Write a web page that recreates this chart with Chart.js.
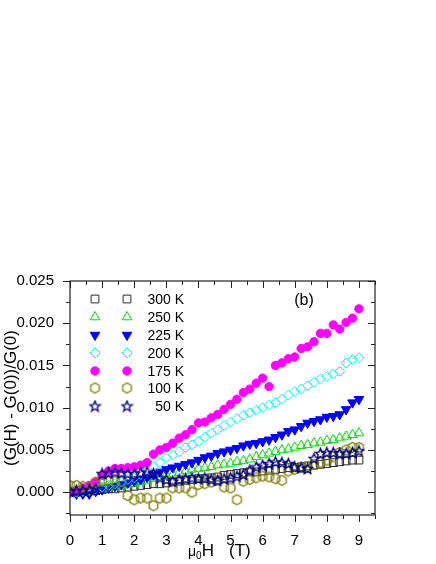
<!DOCTYPE html>
<html lang="en">
<head>
    <meta charset="UTF-8">
    <title>(G(H) - G(0))/G(0) vs field</title>
    <style>
        body {
            margin: 0;
            padding: 0;
            background: #fff;
        }
        #chart {
            display: block;
        }
    </style>
</head>
<body>
    <canvas id="chart" width="436" height="564"></canvas>
    <script src="https://cdn.jsdelivr.net/npm/chart.js@4.4.0/dist/chart.umd.min.js"></script>
    <script>
        // field values (T)
        const field = [0, 0.2, 0.4, 0.6, 0.8, 1.0, 1.2, 1.4, 1.6, 1.8, 2.0, 2.2, 2.4, 2.6, 2.8, 3.0,
            3.2, 3.4, 3.6, 3.8, 4.0, 4.2, 4.4, 4.6, 4.8, 5.0, 5.2, 5.4, 5.6, 5.8, 6.0,
            6.2, 6.4, 6.6, 6.8, 7.0, 7.2, 7.4, 7.6, 7.8, 8.0, 8.2, 8.4, 8.6, 8.8, 9.0];

        const temps = ['300 K', '250 K', '225 K', '200 K', '175 K', '100 K', '50 K'];

        const g300 = [0.0000, 0.0001, 0.0001, 0.0002, 0.0002, 0.0003, 0.0004, 0.0004, 0.0005, 0.0006, 0.0007, 0.0008, 0.0009, 0.0010, 0.0010, 0.0011,
            0.0012, 0.0013, 0.0014, 0.0015, 0.0016, 0.0016, 0.0017, 0.0018, 0.0020, 0.0021, 0.0022, 0.0023, 0.0024, 0.0024, 0.0025,
            0.0026, 0.0027, 0.0028, 0.0029, 0.0029, 0.0030, 0.0031, 0.0032, 0.0033, 0.0034, 0.0035, 0.0036, 0.0037, 0.0038, 0.0038];
        const g250 = [0.0000, -0.0001, 0.0000, 0.0001, 0.0003, 0.0004, 0.0005, 0.0006, 0.0007, 0.0009, 0.0010, 0.0012, 0.0014, 0.0016, 0.0018, 0.0020,
            0.0021, 0.0023, 0.0025, 0.0027, 0.0028, 0.0029, 0.0030, 0.0032, 0.0033, 0.0034, 0.0036, 0.0037, 0.0039, 0.0042, 0.0044,
            0.0046, 0.0048, 0.0050, 0.0051, 0.0053, 0.0055, 0.0056, 0.0058, 0.0059, 0.0061, 0.0062, 0.0064, 0.0066, 0.0068, 0.0070];
        const g225 = [0.0000, -0.0002, -0.0002, -0.0002, 0.0001, 0.0003, 0.0005, 0.0007, 0.0009, 0.0011, 0.0013, 0.0015, 0.0018, 0.0021, 0.0024, 0.0027,
            0.0029, 0.0031, 0.0033, 0.0035, 0.0038, 0.0041, 0.0043, 0.0046, 0.0048, 0.0050, 0.0052, 0.0055, 0.0057, 0.0058, 0.0060,
            0.0062, 0.0065, 0.0068, 0.0072, 0.0074, 0.0078, 0.0082, 0.0084, 0.0086, 0.0089, 0.0090, 0.0092, 0.0098, 0.0106, 0.0110];
        const g200 = [0.0000, 0.0000, 0.0001, 0.0002, 0.0004, 0.0006, 0.0008, 0.0010, 0.0012, 0.0015, 0.0017, 0.0021, 0.0025, 0.0030, 0.0035, 0.0041,
            0.0044, 0.0048, 0.0053, 0.0056, 0.0060, 0.0065, 0.0070, 0.0074, 0.0079, 0.0083, 0.0087, 0.0091, 0.0094, 0.0097, 0.0100,
            0.0103, 0.0106, 0.0110, 0.0115, 0.0119, 0.0122, 0.0126, 0.0130, 0.0134, 0.0137, 0.0140, 0.0143, 0.0153, 0.0157, 0.0159];
        const g175 = [0.0000, 0.0002, 0.0005, 0.0008, 0.0012, 0.0020, 0.0025, 0.0028, 0.0028, 0.0029, 0.0030, 0.0032, 0.0035, 0.0045, 0.0050, 0.0053,
            0.0058, 0.0064, 0.0068, 0.0074, 0.0082, 0.0083, 0.0088, 0.0092, 0.0098, 0.0104, 0.0110, 0.0118, 0.0122, 0.0129, 0.0135,
            0.0125, 0.0150, 0.0153, 0.0158, 0.0160, 0.0170, 0.0172, 0.0178, 0.0188, 0.0188, 0.0198, 0.0193, 0.0201, 0.0206, 0.0217];
        const g100 = [0.0008, 0.0008, 0.0007, 0.0003, 0.0012, 0.0013, 0.0013, 0.0013, 0.0013, -0.0004, -0.0009, -0.0007, -0.0007, -0.0016, -0.0007, -0.0007,
            0.0005, 0.0005, 0.0005, 0.0000, 0.0009, 0.0010, 0.0012, 0.0014, 0.0006, 0.0005, -0.0009, 0.0013, 0.0015, 0.0017, 0.0019,
            0.0018, 0.0016, 0.0014, 0.0025, 0.0027, 0.0029, 0.0030, 0.0033, 0.0035, 0.0038, 0.0042, 0.0047, 0.0050, 0.0053, 0.0053];
        const g50 = [0.0001, 0.0002, 0.0002, 0.0003, 0.0004, 0.0022, 0.0023, 0.0024, 0.0023, 0.0022, 0.0022, 0.0023, 0.0024, 0.0022, 0.0017, 0.0015,
            0.0013, 0.0015, 0.0016, 0.0017, 0.0016, 0.0017, 0.0015, 0.0014, 0.0016, 0.0017, 0.0019, 0.0021, 0.0026, 0.0030, 0.0032,
            0.0034, 0.0036, 0.0035, 0.0034, 0.0030, 0.0029, 0.0028, 0.0040, 0.0046, 0.0047, 0.0047, 0.0046, 0.0046, 0.0047, 0.0049];

        const xTicks = [0, 1, 2, 3, 4, 5, 6, 7, 8, 9];
        const yTicks = [0.000, 0.005, 0.010, 0.015, 0.020, 0.025];

        const FONT = '"Liberation Sans", Arial, sans-serif';

        // hollow hexagon and star markers (no built-in style for these)
        function makeMarker(kind, color) {
            const c = document.createElement('canvas');
            c.width = 13; c.height = 13;
            const g = c.getContext('2d');
            g.strokeStyle = color;
            g.lineWidth = 1.3;
            g.beginPath();
            if (kind === 'hex') {
                for (let i = 0; i < 6; i++) {
                    const a = Math.PI / 6 + i * Math.PI / 3;
                    const px = 6.5 + 5 * Math.cos(a), py = 6.5 + 5 * Math.sin(a);
                    if (i === 0) g.moveTo(px, py); else g.lineTo(px, py);
                }
            } else {
                for (let i = 0; i < 10; i++) {
                    const r = i % 2 === 0 ? 5.5 : 2.4;
                    const a = -Math.PI / 2 + i * Math.PI / 5;
                    const px = 6.5 + r * Math.cos(a), py = 7 + r * Math.sin(a);
                    if (i === 0) g.moveTo(px, py); else g.lineTo(px, py);
                }
            }
            g.closePath();
            g.stroke();
            return c;
        }

        const series = [g300, g250, g225, g200, g175, g100, g50];
        const styles = [
            { color: '#2a2a2a', pointStyle: 'rect', radius: 5.5, fill: false },
            { color: '#00e000', pointStyle: 'triangle', radius: 5.5, fill: false },
            { color: '#0000ff', pointStyle: 'triangle', radius: 5.5, fill: true, rotation: 180 },
            { color: '#00ffff', pointStyle: 'rectRot', radius: 5, fill: false },
            { color: '#ff00ff', pointStyle: 'circle', radius: 4.2, fill: true },
            { color: '#808000', pointStyle: makeMarker('hex', '#808000'), radius: 5, fill: false },
            { color: '#000080', pointStyle: makeMarker('star', '#000080'), radius: 5, fill: false }
        ];

        const datasets = series.map((vals, i) => ({
            label: temps[i],
            data: vals.map((v, j) => ({ x: field[j], y: v })),
            pointStyle: styles[i].pointStyle,
            pointRadius: styles[i].radius,
            pointRotation: styles[i].rotation || 0,
            borderColor: styles[i].color,
            backgroundColor: styles[i].fill ? styles[i].color : 'rgba(0,0,0,0)',
            pointBorderWidth: 1,
            showLine: false,
            order: series.length - i
        }));

        const decor = {
            id: 'decor',
            afterDraw(chart) {
                const { ctx, chartArea: a, scales: { x, y } } = chart;
                ctx.save();
                ctx.strokeStyle = '#222';
                ctx.lineWidth = 1.2;
                ctx.strokeRect(a.left, a.top, a.right - a.left, a.bottom - a.top);

                ctx.lineWidth = 1;
                ctx.beginPath();
                for (let k = 0; k <= 19; k++) {
                    const v = k * 0.5;
                    const px = Math.round(x.getPixelForValue(v)) + 0.5;
                    const len = k % 2 === 0 ? 7 : 4;
                    ctx.moveTo(px, a.bottom); ctx.lineTo(px, a.bottom + len);
                    ctx.moveTo(px, a.top); ctx.lineTo(px, a.top + len);
                }
                for (let k = -1; k <= 10; k++) {
                    const v = k * 0.0025;
                    const py = Math.round(y.getPixelForValue(v)) + 0.5;
                    const len = k % 2 === 0 ? 7 : 4;
                    ctx.moveTo(a.left, py); ctx.lineTo(a.left - len, py);
                    ctx.moveTo(a.right, py); ctx.lineTo(a.right - len, py);
                }
                ctx.stroke();

                // legend: two markers then label, like the original
                const rowY = [299, 317, 335, 353, 371, 388, 406];
                ctx.font = '14px ' + FONT;
                ctx.textAlign = 'right';
                ctx.textBaseline = 'middle';
                datasets.forEach((ds, i) => {
                    const opts = {
                        pointStyle: ds.pointStyle,
                        radius: ds.pointRadius,
                        rotation: ds.pointRotation,
                        borderWidth: 1
                    };
                    [95, 127].forEach(mx => {
                        ctx.strokeStyle = ds.borderColor;
                        ctx.fillStyle = ds.backgroundColor;
                        ctx.lineWidth = 1;
                        Chart.helpers.drawPoint(ctx, opts, mx, rowY[i]);
                    });
                    ctx.fillStyle = '#000';
                    ctx.fillText(ds.label, 184, rowY[i] + 1);
                });

                ctx.font = '16px ' + FONT;
                ctx.textAlign = 'center';
                ctx.fillText('(b)', 304, 301);

                // y title
                ctx.save();
                ctx.translate(11, 398);
                ctx.rotate(-Math.PI / 2);
                ctx.font = '17px ' + FONT;
                ctx.textAlign = 'center';
                ctx.textBaseline = 'middle';
                ctx.fillText('(G(H) - G(0))/G(0)', 0, 0);
                ctx.restore();

                // x title with subscript
                ctx.textAlign = 'left';
                ctx.textBaseline = 'alphabetic';
                let tx = 188;
                const base = 556;
                ctx.font = '14px ' + FONT;
                ctx.fillText('\u03bc', tx, base);
                tx += ctx.measureText('\u03bc').width;
                ctx.font = '10px ' + FONT;
                ctx.fillText('0', tx, base + 3);
                tx += ctx.measureText('0').width;
                ctx.font = '17px ' + FONT;
                ctx.fillText('H', tx, base);
                ctx.fillText('(T)', 229, base);
                ctx.restore();
            }
        };

        new Chart(document.getElementById('chart'), {
            type: 'scatter',
            data: { datasets: datasets },
            options: {
                responsive: false,
                devicePixelRatio: 1,
                animation: false,
                layout: { padding: { top: 281, right: 61, left: 0, bottom: 0 } },
                plugins: {
                    legend: { display: false },
                    tooltip: { enabled: false }
                },
                scales: {
                    x: {
                        type: 'linear',
                        min: 0,
                        max: 9.5,
                        grid: { display: false },
                        border: { display: false },
                        afterFit: s => { s.height = 49; },
                        afterBuildTicks: s => { s.ticks = xTicks.map(v => ({ value: v })); },
                        ticks: {
                            padding: 9,
                            color: '#000',
                            font: { family: FONT, size: 15 },
                            callback: v => String(v)
                        }
                    },
                    y: {
                        type: 'linear',
                        min: -0.0027,
                        max: 0.025,
                        grid: { display: false },
                        border: { display: false },
                        afterFit: s => { s.width = 70; },
                        afterBuildTicks: s => { s.ticks = yTicks.map(v => ({ value: v })); },
                        ticks: {
                            padding: 8,
                            color: '#000',
                            font: { family: FONT, size: 15 },
                            callback: v => v.toFixed(3)
                        }
                    }
                }
            },
            plugins: [decor]
        });
    </script>
</body>
</html>
